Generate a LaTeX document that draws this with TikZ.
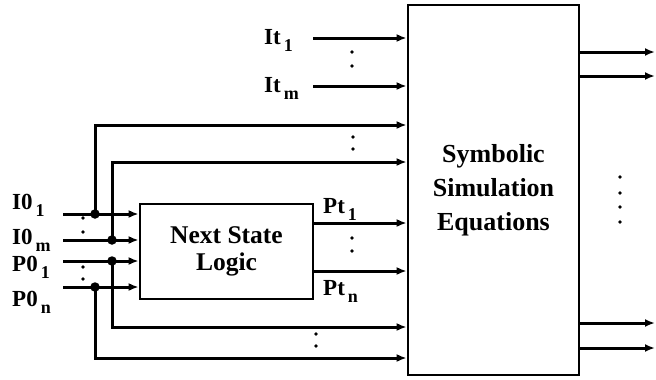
\documentclass[tikz,border=0pt]{standalone}
\usepackage{fontspec}
\setmainfont{Liberation Serif}
\usetikzlibrary{arrows.meta}
\newcommand\lowsub[1]{\kern3pt\raisebox{-7pt}{\fontsize{18}{18}\selectfont #1}}

\begin{document}
\begin{tikzpicture}[x=1pt, y=-1pt,
    block/.style={rectangle, draw=black, line width=2.8pt, inner sep=0pt, align=center},
    wire/.style={line width=3pt},
    bus/.style={wire, -{Latex[length=10pt, width=8pt]}},
    junction/.style={circle, fill=black, inner sep=0pt, minimum size=9.5pt},
    sig/.style={font=\fontsize{23}{23}\selectfont\bfseries, inner sep=0pt, anchor=base west}
]
\useasboundingbox (0,0) rectangle (656,380);

% Blocks
\node[block, minimum width=171pt, minimum height=370pt, font=\fontsize{26}{34}\selectfont\bfseries] (sim) at (493.5,190) {Symbolic\\Simulation\\Equations};
\node[block, minimum width=173pt, minimum height=95pt, font=\fontsize{25.5}{27}\selectfont\bfseries] (nsl) at (226.5,251.5) {Next State\\Logic};

% Signal names
\node[sig] (it1) at (264,44)  {It\lowsub{1}};
\node[sig] (itm) at (264,92)  {It\lowsub{m}};
\node[sig] (io1) at (12,209)  {I0\lowsub{1}};
\node[sig] (iom) at (12,244)  {I0\lowsub{m}};
\node[sig] (po1) at (12,271)  {P0\lowsub{1}};
\node[sig] (pon) at (12,306)  {P0\lowsub{n}};
\node[sig] (pt1) at (323,213) {Pt\lowsub{1}};
\node[sig] (ptn) at (323,295) {Pt\lowsub{n}};

% Wire end points
\coordinate (t1) at (313,38);
\coordinate (tm) at (313,86);
\coordinate (in1) at (63,214);
\coordinate (in2) at (63,240);
\coordinate (in3) at (63,261);
\coordinate (in4) at (63,287);
\coordinate (fb1) at (95,125);
\coordinate (fb2) at (112,162);
\coordinate (fb3) at (112,327);
\coordinate (fb4) at (95,358);
\coordinate (p1) at (313,223);
\coordinate (pn) at (313,271);
\coordinate (o1) at (655,52);
\coordinate (o2) at (655,76);
\coordinate (o3) at (655,323);
\coordinate (o4) at (655,348);

% Junctions
\node[junction] (j1) at (95,214) {};
\node[junction] (j2) at (112,240) {};
\node[junction] (j3) at (112,261) {};
\node[junction] (j4) at (95,287) {};

% Inputs into next state logic
\draw[bus] (in1) -- (in1 -| nsl.west);
\draw[bus] (in2) -- (in2 -| nsl.west);
\draw[bus] (in3) -- (in3 -| nsl.west);
\draw[bus] (in4) -- (in4 -| nsl.west);

% Inputs routed round the logic
\draw[bus] (j1.center) -- (fb1) -- (fb1 -| sim.west);
\draw[bus] (j2.center) -- (fb2) -- (fb2 -| sim.west);
\draw[bus] (j3.center) -- (fb3) -- (fb3 -| sim.west);
\draw[bus] (j4.center) -- (fb4) -- (fb4 -| sim.west);

% Direct inputs and next state outputs
\draw[bus] (t1) -- (t1 -| sim.west);
\draw[bus] (tm) -- (tm -| sim.west);
\draw[bus] (p1) -- (p1 -| sim.west);
\draw[bus] (pn) -- (pn -| sim.west);

% Outputs
\draw[bus] (o1 -| sim.east) -- (o1);
\draw[bus] (o2 -| sim.east) -- (o2);
\draw[bus] (o3 -| sim.east) -- (o3);
\draw[bus] (o4 -| sim.east) -- (o4);

% Ellipsis dots
\foreach \x/\y in {352/52, 352/66, 353/137, 353/149, 352/238, 352/251, 316/334, 316/346,
                   83/218, 83/232, 83/267, 83/279, 620/177, 620/193, 620/207, 620/222}
  \fill (\x,\y) circle (1.8);

\end{tikzpicture}
\end{document}
